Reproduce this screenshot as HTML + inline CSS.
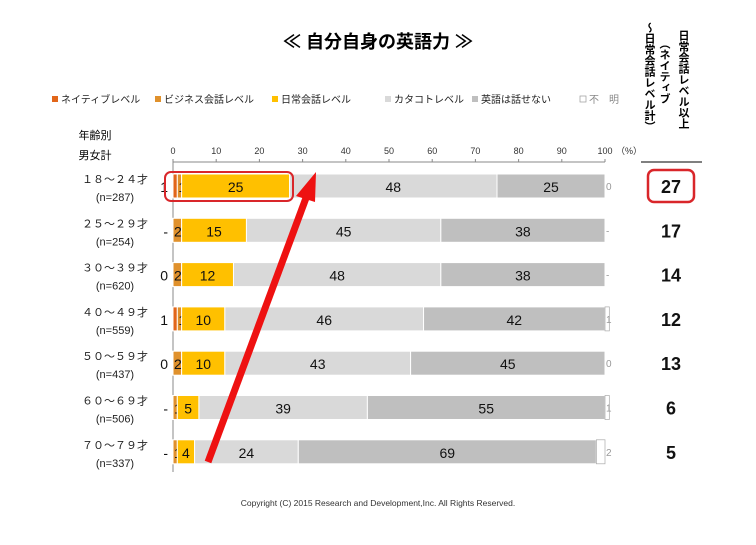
<!DOCTYPE html>
<html><head><meta charset="utf-8"><style>
html,body{margin:0;padding:0;background:#fff;}
body{width:756px;height:540px;overflow:hidden;font-family:"Liberation Sans","Noto Sans CJK JP",sans-serif;}
</style></head><body>
<svg width="756" height="540" xmlns="http://www.w3.org/2000/svg" font-family="Liberation Sans, Noto Sans CJK JP, sans-serif">
<text x="378" y="48" text-anchor="middle" font-size="18" font-weight="bold" fill="#000">≪ 自分自身の英語力 ≫</text>
<g id="legend"></g>
<text x="95" y="139" text-anchor="middle" font-size="11">年齢別</text>
<text x="95" y="159" text-anchor="middle" font-size="11">男女計</text>
<g id="axis"></g>
<g id="bars"></g>
<g id="totals">
<text x="683" y="30" font-size="11" font-weight="bold" writing-mode="tb">日常会話レベル以上</text>
<text x="664" y="38" font-size="11" font-weight="bold" writing-mode="tb">（ネイティブ</text>
<text x="649" y="22" font-size="11" font-weight="bold" writing-mode="tb">～日常会話レベル計）</text>
<line x1="641" y1="162" x2="702" y2="162" stroke="#000" stroke-width="1"/>
<rect x="648" y="170" width="46" height="32" rx="6" fill="none" stroke="#d9262a" stroke-width="2.5"/>
</g>
<rect x="165" y="172" width="128" height="29" rx="6" fill="none" stroke="#d9262a" stroke-width="2"/>
<g>
<line x1="208" y1="462" x2="306" y2="198" stroke="#ee1111" stroke-width="7"/>
<polygon points="316,172 296,196 315,202" fill="#ee1111"/>
</g>
<text x="378" y="506" text-anchor="middle" font-size="8.5" fill="#333">Copyright (C) 2015 Research and Development,Inc. All Rights Reserved.</text>
</svg>
<script>
const categories=["１８～２４才","２５～２９才","３０～３９才","４０～４９才","５０～５９才","６０～６９才","７０～７９才"];
const sampleSizes=["(n=287)","(n=254)","(n=620)","(n=559)","(n=437)","(n=506)","(n=337)"];
const nativeVals=[1,0,0,1,0,0,0];
const nativeLabels=["1","-","0","1","0","-","-"];
const businessVals=[1,2,2,1,2,1,1];
const dailyVals=[25,15,12,10,10,5,4];
const katakotoVals=[48,45,48,46,43,39,24];
const cannotVals=[25,38,38,42,45,55,69];
const unknownVals=[0,0,0,1,0,1,2];
const unknownLabels=["0","-","-","1","0","1","2"];
const totals=[27,17,14,12,13,6,5];
const xTicks=[0,10,20,30,40,50,60,70,80,90,100];
const seriesNames=["ネイティブレベル","ビジネス会話レベル","日常会話レベル","カタコトレベル","英語は話せない","不　明"];
const NS="http://www.w3.org/2000/svg";
const x0=173,x1=605;
const xs=v=>x0+(x1-x0)*v/100;
const yc=i=>186+i*44.3;
const barH=24;
function mk(tag,attrs,parent,text){const e=document.createElementNS(NS,tag);for(const k in attrs)e.setAttribute(k,attrs[k]);if(text!==undefined)e.textContent=text;parent.appendChild(e);return e;}
const colors=["#e2661a","#e0912c","#ffc000","#d9d9d9","#bfbfbf","#ffffff"];
// legend
const lg=document.getElementById('legend');
const lx=[52,155,272,385,472,580];
seriesNames.forEach((n,i)=>{
  const r=mk('rect',{x:lx[i],y:96,width:6,height:6,fill:colors[i],stroke:i==5?'#999':'none','stroke-width':0.7},lg);
  
  
  const t=mk('text',{x:lx[i]+9,y:103,'font-size':10,fill:i==5?'#888':'#222'},lg,n);
  
  
});
// axis
const ax=document.getElementById('axis');
const al=mk('line',{x1:x0,y1:162,x2:x1,y2:162,stroke:'#888'},ax);


const vl=mk('line',{x1:x0,y1:162,x2:x0,y2:472,stroke:'#888'},ax);


xTicks.forEach(v=>{
  const tk=mk('line',{x1:xs(v),y1:159,x2:xs(v),y2:162,stroke:'#888'},ax);
  
  
  const t=mk('text',{x:xs(v),y:154,'font-size':9,'text-anchor':'middle',fill:'#333'},ax,String(v));
  
  
});
const pc=mk('text',{x:616,y:154,'font-size':9,fill:'#333'},ax,'（%）');


// bars
const bg=document.getElementById('bars');
const tg=document.getElementById('totals');
categories.forEach((c,i)=>{
  const y=yc(i);
  const t1=mk('text',{x:115,y:y-3,'font-size':11,'text-anchor':'middle',fill:'#222'},bg,c);
  
  
  const t2=mk('text',{x:115,y:y+15,'font-size':11,'text-anchor':'middle',fill:'#222'},bg,sampleSizes[i]);
  
  
  const segs=[nativeVals[i],businessVals[i],dailyVals[i],katakotoVals[i],cannotVals[i],unknownVals[i]];
  let acc=0;
  segs.forEach((v,k)=>{
    if(v>0){
      const r=mk('rect',{x:xs(acc),y:y-barH/2,width:xs(acc+v)-xs(acc),height:barH,fill:colors[k],stroke:k==5?'#aaa':'#fff','stroke-width':k==5?0.7:1},bg);
      
      
      if(k>=1&&k<=4){
        const lab=mk('text',{x:k==1?xs(acc)+1:(xs(acc)+xs(acc+v))/2,y:y+6,'font-size':14,'text-anchor':k==1?'start':'middle',fill:'#111'},bg,String(v));
        
        
      }
    }
    acc+=v;
  });
  const nl=mk('text',{x:xs(0)-5,y:y+6,'font-size':14,'text-anchor':'end',fill:'#111'},bg,nativeLabels[i]);
  
  
  const ul=mk('text',{x:xs(100)+1,y:y+4,'font-size':10,fill:'#999'},bg,unknownLabels[i]);
  
  
  const tt=mk('text',{x:671,y:y+7,'font-size':18,'font-weight':'bold','text-anchor':'middle',fill:'#111'},tg,String(totals[i]));
  
  
});
</script>
</body></html>
